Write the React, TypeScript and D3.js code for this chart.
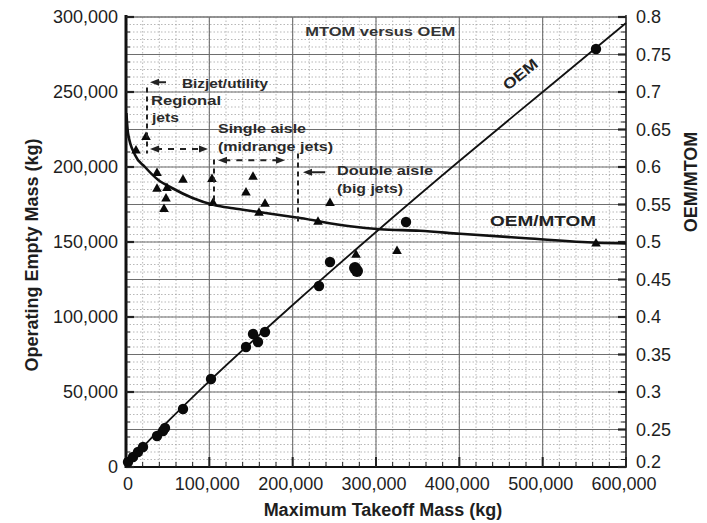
import React from 'react';
import * as d3 from 'd3';

// OEM data points (circles, left axis)
const circleMtom = [2400, 8400, 14400, 20400, 37200, 44400, 46800, 68400, 102000, 144000, 158400, 152400, 166800, 231600, 244800, 274800, 277200, 336000, 564000];
const circleOem = [3300, 6700, 10000, 13300, 20700, 24000, 26000, 38700, 58700, 80000, 83300, 88700, 90000, 120700, 136700, 132700, 130700, 163300, 278700];

// OEM/MTOM data points (triangles, right axis)
const triMtom = [24000, 12000, 37200, 37200, 49200, 48000, 45600, 68400, 103200, 152400, 144000, 166800, 244800, 104400, 159600, 230400, 276000, 325200, 564000];
const triRatio = [0.641, 0.623, 0.593, 0.572, 0.573, 0.559, 0.545, 0.584, 0.585, 0.588, 0.567, 0.552, 0.553, 0.553, 0.54, 0.528, 0.484, 0.489, 0.499];

// OEM trend line
const oemLineMtom = [0, 20000, 50000, 100000, 200000, 300000, 400000, 500000, 600000];
const oemLineOem = [0, 13100, 30200, 57300, 108000, 156700, 204000, 250000, 296000];

// OEM/MTOM trend curve
const ratioMtom = [500, 2400, 10800, 22800, 38400, 55200, 79200, 106800, 128400, 159600, 208800, 268800, 304800, 352800, 400800, 480000, 565200, 600000];
const ratioVal = [0.672, 0.645, 0.616, 0.6, 0.583, 0.572, 0.559, 0.549, 0.545, 0.54, 0.532, 0.521, 0.517, 0.515, 0.511, 0.505, 0.499, 0.498];

const xTicks = [0, 100000, 200000, 300000, 400000, 500000, 600000];
const yLeftTicks = [0, 50000, 100000, 150000, 200000, 250000, 300000];
const yRightTicks = ['0.2', '0.25', '0.3', '0.35', '0.4', '0.45', '0.5', '0.55', '0.6', '0.65', '0.7', '0.75', '0.8'];

const W = 707;
const H = 523;
const L = 126, R = 626, T = 17, B = 467;
const FONT = '"Liberation Sans", Arial, Helvetica, sans-serif';
const INK = '#1e1e1e';

const x = d3.scaleLinear().domain([0, 600000]).range([L, R]);
const yL = d3.scaleLinear().domain([0, 300000]).range([B, T]);
const yR = d3.scaleLinear().domain([0.2, 0.8]).range([B, T]);
const fmt = d3.format(',');

const tri = (cx: number, cy: number, s = 4.8) =>
  `M${cx},${cy - s}L${cx + s},${cy + s * 0.8}L${cx - s},${cy + s * 0.8}Z`;

export default function App() {
  const oemLine = d3.line<number>()
    .x((_, i) => x(oemLineMtom[i]))
    .y((_, i) => yL(oemLineOem[i]))
    .curve(d3.curveMonotoneX)(oemLineMtom) as string;

  const ratioLine = d3.line<number>()
    .x((_, i) => x(ratioMtom[i]))
    .y((_, i) => yR(ratioVal[i]))
    .curve(d3.curveMonotoneX)(ratioMtom) as string;

  const minorX = d3.range(0, 600001, 20000);
  const minorY = d3.range(20, 81).map(v => v / 100);
  const majorY = d3.range(4, 17).map(v => v * 0.05);

  // annotation helpers in data units (MTOM, OEM)
  const ax = (v: number) => x(v);
  const ay = (v: number) => yL(v);

  const arrowHead = (px: number, py: number, dir: number) =>
    `M${px},${py}L${px - dir * 9},${py - 3.5}L${px - dir * 9},${py + 3.5}Z`;

  const annText = { fontFamily: FONT, fontWeight: 700, fontSize: 13.5, fill: '#2a2a2a' } as const;

  return (
    <svg width={W} height={H} style={{ position: 'absolute', left: 0, top: 0, background: '#fff' }}>
      <rect width={W} height={H} fill="#fff" />
      {/* minor grid */}
      <g stroke="#9a9a9a" strokeWidth={0.7} strokeDasharray="1.5,2">
        {minorX.map(v => <line key={'mx' + v} x1={x(v)} x2={x(v)} y1={T} y2={B} />)}
        {minorY.map(v => <line key={'my' + v} x1={L} x2={R} y1={yR(v)} y2={yR(v)} />)}
      </g>
      {/* major grid */}
      <g stroke="#6e6e6e" strokeWidth={1.1}>
        {xTicks.map(v => <line key={'Mx' + v} x1={x(v)} x2={x(v)} y1={T} y2={B} />)}
        {majorY.map(v => <line key={'My' + v} x1={L} x2={R} y1={yR(v)} y2={yR(v)} />)}
      </g>

      {/* axes frame */}
      <line x1={L} x2={L} y1={T - 2} y2={B + 1} stroke="#111" strokeWidth={3} />
      <line x1={L} x2={R} y1={B} y2={B} stroke="#111" strokeWidth={2} />
      <line x1={R} x2={R} y1={T - 2} y2={B + 1} stroke="#333" strokeWidth={1.6} />
      <line x1={L} x2={R} y1={T} y2={T} stroke="#777" strokeWidth={1} />

      {/* ticks */}
      <g stroke="#222">
        {minorX.map(v => (
          <line key={'bt' + v} x1={x(v)} x2={x(v)} y1={B} y2={B - (v % 100000 === 0 ? 10 : 5)} strokeWidth={v % 100000 === 0 ? 2 : 1} />
        ))}
        {minorY.map((v, i) => (
          <line key={'rt' + v} x1={R} x2={R - (i % 5 === 0 ? 8 : 5)} y1={yR(v)} y2={yR(v)} strokeWidth={i % 5 === 0 ? 2.2 : 1} />
        ))}
        {d3.range(0, 300001, 10000).map(v => (
          <line key={'lt' + v} x1={L} x2={L + (v % 50000 === 0 ? 8 : 4)} y1={yL(v)} y2={yL(v)} strokeWidth={v % 50000 === 0 ? 2.2 : 1} />
        ))}
      </g>

      {/* tick labels */}
      <g fontFamily={FONT} fontSize={18} fill={INK}>
        {yLeftTicks.map(v => (
          <text key={'yl' + v} x={L - 8} y={yL(v)} dy="0.36em" textAnchor="end">{fmt(v)}</text>
        ))}
        {xTicks.map(v => (
          <text key={'xl' + v} x={v === 0 ? x(v) + 2 : x(v) - 2} y={B + 23} textAnchor="middle">{fmt(v)}</text>
        ))}
        {yRightTicks.map(v => (
          <text key={'yr' + v} x={R + 10} y={yR(+v) + (v === '0.2' ? -5 : 0)} dy="0.36em" textAnchor="start">{v}</text>
        ))}
      </g>

      {/* axis titles */}
      <text x={(L + R) / 2 + 7} y={516} textAnchor="middle" fontFamily={FONT} fontWeight={700} fontSize={18} fill={INK}>
        Maximum Takeoff Mass (kg)
      </text>
      <text transform={`translate(38,${(T + B) / 2 + 13}) rotate(-90)`} textAnchor="middle" fontFamily={FONT} fontWeight={700} fontSize={18} fill={INK}>
        Operating Empty Mass (kg)
      </text>
      <text transform={`translate(697,${yR(0.58)}) rotate(-90)`} textAnchor="middle" fontFamily={FONT} fontWeight={700} fontSize={18} fill={INK}>
        OEM/MTOM
      </text>

      {/* trend lines */}
      <path d={oemLine} fill="none" stroke="#111" strokeWidth={1.8} />
      <path d={ratioLine} fill="none" stroke="#111" strokeWidth={2.6} />

      {/* data points */}
      <g fill="#0a0a0a">
        {circleMtom.map((m, i) => (
          <circle key={'c' + i} cx={x(m)} cy={yL(circleOem[i])} r={i >= 15 && i <= 16 ? 6 : 5.2} />
        ))}
        {triMtom.map((m, i) => (
          <path key={'t' + i} d={tri(x(m), yR(triRatio[i]))} />
        ))}
      </g>

      {/* in-plot labels */}
      <text x={x(305000)} y={yL(287500)} textAnchor="middle" fontFamily={FONT} fontWeight={700} fontSize={13.5} fill="#333" textLength={150} lengthAdjust="spacingAndGlyphs">
        MTOM versus OEM
      </text>
      <text transform={`translate(${x(477000)},${yL(259000)}) rotate(-39)`} textAnchor="middle" fontFamily={FONT} fontWeight={700} fontSize={15} fill="#222" textLength={40} lengthAdjust="spacingAndGlyphs">
        OEM
      </text>
      <text x={x(500400)} y={yR(0.522)} textAnchor="middle" fontFamily={FONT} fontWeight={700} fontSize={15} fill="#222" textLength={106} lengthAdjust="spacingAndGlyphs">
        OEM/MTOM
      </text>

      {/* category annotations */}
      <g stroke="#222" strokeWidth={2} fill="none">
        <line x1={ax(48000)} x2={ax(33000)} y1={ay(256500)} y2={ay(256500)} />
        <line x1={ax(25200)} x2={ax(25200)} y1={ay(253000)} y2={ay(209000)} strokeDasharray="5,4" />
        <line x1={ax(36000)} x2={ax(91000)} y1={ay(212000)} y2={ay(212000)} strokeDasharray="6,6" />
        <line x1={ax(105600)} x2={ax(105600)} y1={ay(205000)} y2={ay(174000)} strokeDasharray="5,4" />
        <line x1={ax(118000)} x2={ax(183000)} y1={ay(204500)} y2={ay(204500)} strokeDasharray="6,6" />
        <line x1={ax(206400)} x2={ax(206400)} y1={ay(209000)} y2={ay(161000)} strokeDasharray="5,4" />
        <line x1={ax(239000)} x2={ax(222000)} y1={ay(196500)} y2={ay(196500)} />
      </g>
      <g fill="#222">
        <path d={arrowHead(ax(28800), ay(256500), -1)} />
        <path d={arrowHead(ax(28800), ay(212000), -1)} />
        <path d={arrowHead(ax(98400), ay(212000), 1)} />
        <path d={arrowHead(ax(110400), ay(204500), -1)} />
        <path d={arrowHead(ax(190800), ay(204500), 1)} />
        <path d={arrowHead(ax(212400), ay(196500), -1)} />
      </g>
      <g {...annText}>
        <text x={ax(67200)} y={ay(252800)} textLength={86} lengthAdjust="spacingAndGlyphs">Bizjet/utility</text>
        <text x={ax(30000)} y={ay(241500)} textLength={70} lengthAdjust="spacingAndGlyphs">Regional</text>
        <text x={ax(31200)} y={ay(230200)} textLength={27} lengthAdjust="spacingAndGlyphs">jets</text>
        <text x={ax(110400)} y={ay(222500)} textLength={88} lengthAdjust="spacingAndGlyphs">Single aisle</text>
        <text x={ax(110400)} y={ay(210500)} textLength={115} lengthAdjust="spacingAndGlyphs">(midrange jets)</text>
        <text x={ax(253200)} y={ay(194500)} textLength={96} lengthAdjust="spacingAndGlyphs">Double aisle</text>
        <text x={ax(253200)} y={ay(183000)} textLength={66} lengthAdjust="spacingAndGlyphs">(big jets)</text>
      </g>
    </svg>
  );
}
